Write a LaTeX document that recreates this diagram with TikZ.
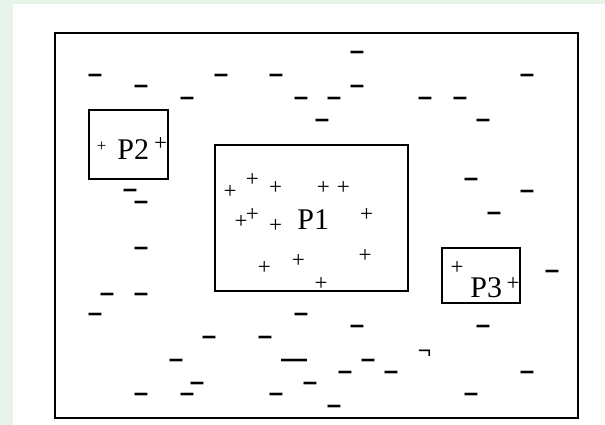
\documentclass[tikz,border=0pt]{standalone}
\usepackage{fontspec}
\setmainfont{Liberation Serif}
\newfontfamily\dashfont{Liberation Sans}
\definecolor{bgreen}{RGB}{230,244,234}
\begin{document}
\begin{tikzpicture}[x=1pt,y=-1pt,
  minussign/.style={font=\dashfont\bfseries\fontsize{26}{26}\selectfont, inner sep=0pt, anchor=base, yshift=-7pt},
  plussign/.style={font=\fontsize{23}{23}\selectfont, inner sep=0pt, anchor=base, yshift=-5.8pt},
  smallplus/.style={font=\fontsize{17}{17}\selectfont, inner sep=0pt, anchor=base, yshift=-4.3pt},
  lbl/.style={font=\fontsize{30}{30}\selectfont, inner sep=0pt, anchor=base},
  outerbox/.style={draw=black, line width=2.2pt},
  region/.style={draw=black, line width=1.6pt},
]
\fill[bgreen] (0,0) rectangle (605,425);
\fill[white] (13,4) rectangle (605,425);
\useasboundingbox (0,0) rectangle (605,425);
% boxes
\draw[outerbox] (55,33) rectangle (578,418);
\draw[region] (89,110) rectangle (168,179);
\draw[region] (215,145) rectangle (408,291);
\draw[region] (442,248) rectangle (520,303);
% labels
\node[lbl] (P1) at (313.3,229.5) {P1};
\node[lbl] (P2) at (133.3,159.5) {P2};
\node[lbl] (P3) at (486.2,297.5) {P3};
% negatives
\foreach \x/\y [count=\i] in {95/76,141/87,187/99,221/76,276/76,301/99,334/99,322/121,
  130/190,141/202,357/53,357/87,425/99,460/99,527/76,483/121,471/179,527/191,494/213,
  141/248,107/294,141/294,95/314,301/314,209/337,265/337,176/360,197/383,310/383,
  141/394,187/394,276/394,334/406,345/372,552/271,357/326,483/326,368/360,391/372,
  527/372,471/394}
  \node[minussign] (m\i) at (\x,\y) {–};
\node[minussign] (mwide) at (294,360) {—};
\node[minussign, font=\dashfont\fontsize{23}{23}\selectfont, yshift=-2pt] (mhook) at (424.5,349) {¬};
% positives
\foreach \x/\y [count=\i] in {230/192.3,252.3/181,275.7/188.3,323.3/188.3,343.3/188.3,
  241/222.3,252.3/215.7,275.7/226.7,366.7/215.7,264.3/269,298.3/261.7,365/256.7,321/284.3,
  160.5/144.3,457/269,513/284.7}
  \node[plussign] (p\i) at (\x,\y) {+};
\node[smallplus] (psmall) at (101.7,147.3) {+};
\end{tikzpicture}
\end{document}
